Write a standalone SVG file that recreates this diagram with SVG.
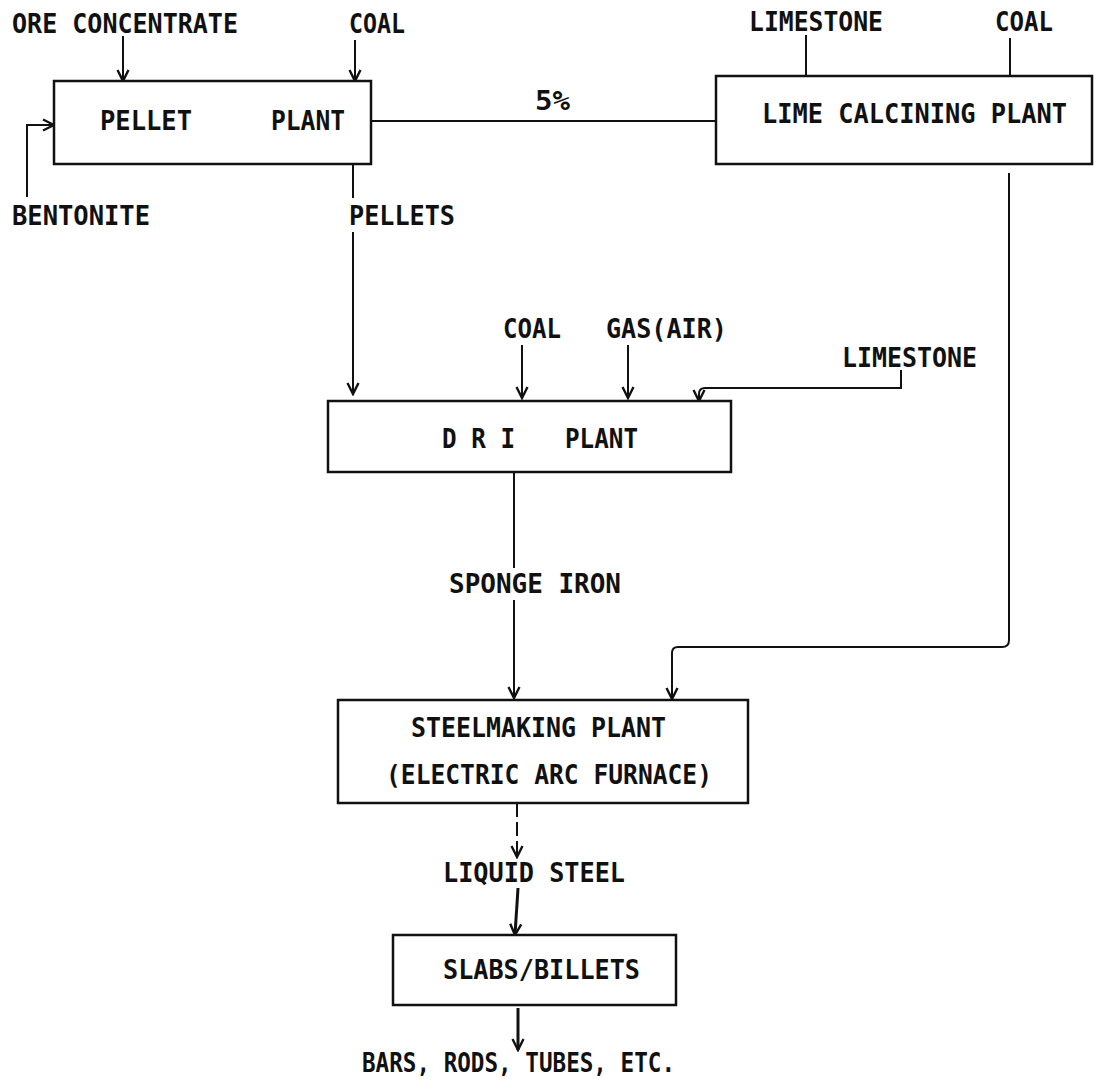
<svg xmlns="http://www.w3.org/2000/svg" width="1095" height="1079" viewBox="0 0 1095 1079">
<style>
text{font-family:"DejaVu Sans Mono","Liberation Mono",monospace;font-weight:bold;font-size:26px;fill:#111}
.box{fill:#fff;stroke:#111;stroke-width:2.5}
.ln{fill:none;stroke:#111;stroke-width:2}
.thk{fill:none;stroke:#111;stroke-width:3}
</style>
<defs>
<marker id="ah" viewBox="-1 -1 14 14" refX="11" refY="6" markerWidth="14" markerHeight="14" markerUnits="userSpaceOnUse" orient="auto">
<path d="M0,0.5 L11,6 L0,11.5" fill="none" stroke="#111" stroke-width="2.4" stroke-linejoin="miter"/>
</marker>
</defs>
<rect width="1095" height="1079" fill="#fff"/>
<g id="connectors">
<line class="ln" x1="123" y1="36" x2="123" y2="81" marker-end="url(#ah)"/>
<line class="ln" x1="355" y1="40" x2="355" y2="81" marker-end="url(#ah)"/>
<path class="ln" d="M27,197 V125 H54" marker-end="url(#ah)"/>
<line class="ln" x1="371" y1="121" x2="716" y2="121"/>
<line class="ln" x1="806" y1="35" x2="806" y2="76"/>
<line class="ln" x1="1010" y1="38" x2="1010" y2="76"/>
<line class="ln" x1="353" y1="164" x2="353" y2="198"/>
<line class="ln" x1="353" y1="232" x2="353" y2="394" marker-end="url(#ah)"/>
<line class="ln" x1="522" y1="345" x2="522" y2="398" marker-end="url(#ah)"/>
<line class="ln" x1="628" y1="345" x2="628" y2="398" marker-end="url(#ah)"/>
<path class="ln" d="M901,370 V388 H705 Q699,388 699,394 V401" marker-end="url(#ah)"/>
<line class="ln" x1="514" y1="472" x2="514" y2="568"/>
<line class="ln" x1="514" y1="600" x2="514" y2="698" marker-end="url(#ah)"/>
<path class="ln" d="M1009,173 V640 Q1009,647 1002,647 H678 Q672,647 672,653 V699" marker-end="url(#ah)"/>
<line class="ln" x1="517" y1="803" x2="517" y2="857" stroke-dasharray="14 5" marker-end="url(#ah)"/>
<line class="thk" x1="518" y1="888" x2="515" y2="935" marker-end="url(#ah)"/>
<line class="thk" x1="518" y1="1008" x2="518" y2="1050" marker-end="url(#ah)"/>
</g>
<g id="ore-concentrate"><text x="12" y="33" textLength="226" lengthAdjust="spacingAndGlyphs">ORE CONCENTRATE</text></g>
<g id="coal-1"><text x="349" y="33" textLength="56" lengthAdjust="spacingAndGlyphs">COAL</text></g>
<g id="bentonite"><text x="12" y="225" textLength="138" lengthAdjust="spacingAndGlyphs">BENTONITE</text></g>
<g id="pellet-plant">
<rect class="box" x="54" y="81" width="317" height="83"/>
<text x="100" y="130" textLength="92" lengthAdjust="spacingAndGlyphs">PELLET</text>
<text x="271" y="130" textLength="74" lengthAdjust="spacingAndGlyphs">PLANT</text>
</g>
<g id="pct"><text x="535" y="110" textLength="35" lengthAdjust="spacingAndGlyphs">5%</text></g>
<g id="pellets"><text x="349" y="225" textLength="106" lengthAdjust="spacingAndGlyphs">PELLETS</text></g>
<g id="limestone-1"><text x="749" y="31" textLength="134" lengthAdjust="spacingAndGlyphs">LIMESTONE</text></g>
<g id="coal-2"><text x="995" y="31" textLength="58" lengthAdjust="spacingAndGlyphs">COAL</text></g>
<g id="lime-calcining-plant">
<rect class="box" x="716" y="76" width="376" height="88"/>
<text x="762" y="123" textLength="305" lengthAdjust="spacingAndGlyphs">LIME CALCINING PLANT</text>
</g>
<g id="coal-3"><text x="503" y="338" textLength="58" lengthAdjust="spacingAndGlyphs">COAL</text></g>
<g id="gas-air"><text x="606" y="338" textLength="121" lengthAdjust="spacingAndGlyphs">GAS(AIR)</text></g>
<g id="limestone-2"><text x="842" y="367" textLength="135" lengthAdjust="spacingAndGlyphs">LIMESTONE</text></g>
<g id="dri-plant">
<rect class="box" x="328" y="401" width="403" height="71"/>
<text x="442" y="448" textLength="73" lengthAdjust="spacingAndGlyphs">D R I</text>
<text x="565" y="448" textLength="73" lengthAdjust="spacingAndGlyphs">PLANT</text>
</g>
<g id="sponge-iron"><text x="449" y="593" textLength="172" lengthAdjust="spacingAndGlyphs">SPONGE IRON</text></g>
<g id="steelmaking-plant">
<rect class="box" x="338" y="700" width="410" height="103"/>
<text x="411" y="737" textLength="255" lengthAdjust="spacingAndGlyphs">STEELMAKING PLANT</text>
<text x="386" y="784" textLength="326" lengthAdjust="spacingAndGlyphs">(ELECTRIC ARC FURNACE)</text>
</g>
<g id="liquid-steel"><text x="443" y="882" textLength="182" lengthAdjust="spacingAndGlyphs">LIQUID STEEL</text></g>
<g id="slabs-billets">
<rect class="box" x="393" y="935" width="283" height="70"/>
<text x="443" y="979" textLength="197" lengthAdjust="spacingAndGlyphs">SLABS/BILLETS</text>
</g>
<g id="bars-rods"><text x="362" y="1072" textLength="313" lengthAdjust="spacingAndGlyphs">BARS, RODS, TUBES, ETC.</text></g>
</svg>
